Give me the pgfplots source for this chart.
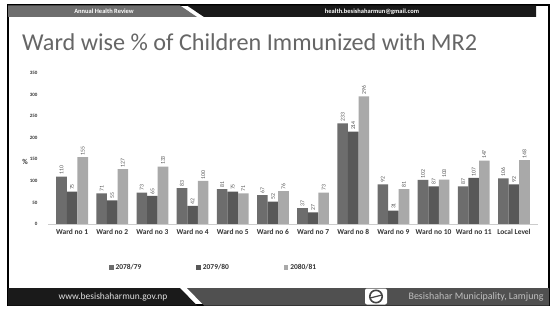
\documentclass[border=0pt]{standalone}
\usepackage{pgfplots}
\pgfplotsset{compat=1.18}
\usepackage{fontspec}
\setmainfont{Carlito}
\definecolor{cA}{HTML}{6D6D6D}
\definecolor{cB}{HTML}{585858}
\definecolor{cC}{HTML}{A9A9A9}
\definecolor{titlec}{HTML}{666666}
\definecolor{labc}{HTML}{555555}
\definecolor{tickc}{HTML}{333333}
\definecolor{bandgray}{HTML}{6E6E6E}
\definecolor{bandblack}{HTML}{1A1A1A}
\definecolor{footgray}{HTML}{505050}
\definecolor{logoc}{HTML}{444444}
\begin{document}
\begin{tikzpicture}[x=1bp,y=1bp]
\useasboundingbox (0,0) rectangle (555,310);
\fill[white] (0,0) rectangle (555,310);
% frame
\draw[black,line width=1.2bp] (8,5) rectangle (549,305);
% top band
\fill[bandgray] (8,304.5) -- (180,304.5) -- (197,293) -- (8,293) -- cycle;
\fill[bandblack] (187,304.5) -- (536,304.5) -- (536,293) -- (204,293) -- cycle;
\node[text=white,font=\bfseries\fontsize{6.5}{7}\selectfont] at (104,298.5) {Annual Health Review};
\node[text=white,font=\bfseries\fontsize{6.5}{7}\selectfont] at (372,298.5) {health.besishaharmun@gmail.com};
% title
\node[anchor=base west,text=titlec,font=\fontsize{24.3}{28}\selectfont,inner sep=0pt] at (22,260) {Ward wise \% of Children Immunized with MR2};
% footer
\fill[bandblack] (8,22) -- (180,22) -- (197,4.5) -- (8,4.5) -- cycle;
\fill[footgray] (187,22) -- (549,22) -- (549,4.5) -- (204,4.5) -- cycle;
\node[text=white!88!black,font=\fontsize{9.5}{10}\selectfont] at (113,13) {www.besishaharmun.gov.np};
\node[text=white!75!black,font=\fontsize{10}{11}\selectfont,anchor=east] at (547,13) {Besishahar Municipality, Lamjung};
\fill[white,rounded corners=2bp] (365,5.5) rectangle (387,21.5);
\draw[logoc,line width=1.6bp] (376,13.5) circle (6.2);
\draw[logoc,line width=1.2bp] (370,12) -- (382,15);
% % sign
\node[text=tickc,font=\bfseries\fontsize{7.5}{8}\selectfont] at (25,148) {\%};
\begin{axis}[
  at={(48bp,86bp)}, anchor=south west,
  scale only axis, width=490bp, height=151bp,
  xmin=-0.6, xmax=11.6, ymin=0, ymax=350,
  ybar=0pt, bar width=10.6bp,
  axis line style={draw=none},
  major tick length=0pt,
  ytick={0,50,...,350},
  xtick={0,...,11},
  xticklabels={Ward no 1,Ward no 2,Ward no 3,Ward no 4,Ward no 5,Ward no 6,Ward no 7,Ward no 8,Ward no 9,Ward no 10,Ward no 11,Local Level},
  /pgf/number format/assume math mode=true,
  yticklabel style={font=\bfseries\fontsize{5}{6}\selectfont,text=tickc,xshift=-7bp},
  xticklabel style={font=\bfseries\fontsize{7.5}{8}\selectfont,text=tickc,yshift=-2bp},
  nodes near coords,
  every node near coord/.append style={rotate=90,anchor=west,font=\fontsize{5.8}{6}\selectfont,text=labc,inner sep=1.5bp},
  legend style={draw=none,fill=none,at={(0.118,-0.291)},anchor=west,legend columns=3,
    font=\bfseries\fontsize{7.5}{8}\selectfont,text=tickc,
    /tikz/every even column/.append style={column sep=53bp}},
  legend image code/.code={\fill[#1] (0bp,-2bp) rectangle (4.5bp,2.5bp);},
  clip=false,
]
\addplot[fill=cA,draw=none] coordinates {(0,110) (1,71) (2,73) (3,83) (4,81) (5,67) (6,37) (7,233) (8,92) (9,102) (10,87) (11,106)};
\addplot[fill=cB,draw=none] coordinates {(0,75) (1,55) (2,65) (3,42) (4,75) (5,52) (6,27) (7,214) (8,31) (9,87) (10,107) (11,92)};
\addplot[fill=cC,draw=none] coordinates {(0,155) (1,127) (2,133) (3,100) (4,71) (5,76) (6,73) (7,296) (8,81) (9,103) (10,147) (11,148)};
\legend{2078/79,2079/80,2080/81}
\draw[black!20,line width=0.6bp] (axis cs:-0.6,0) -- (axis cs:11.6,0);
\end{axis}
\end{tikzpicture}
\end{document}
